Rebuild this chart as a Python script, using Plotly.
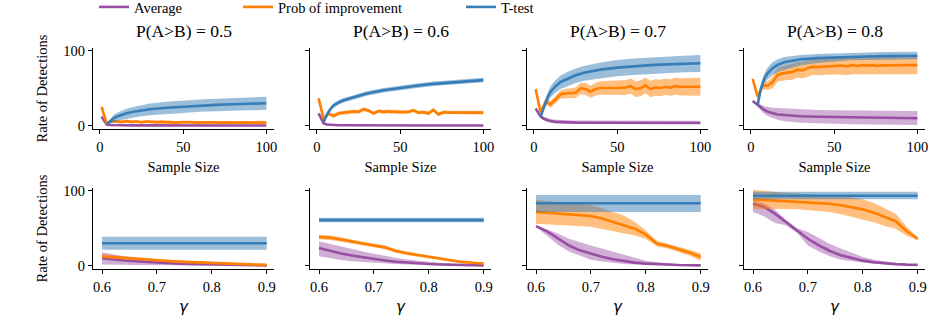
import plotly.graph_objects as go

# ---------------- data ----------------
panel_titles = ["P(A>B) = 0.5", "P(A>B) = 0.6", "P(A>B) = 0.7", "P(A>B) = 0.8"]
series_names = ["Average", "Prob of improvement", "T-test"]

sample_sizes = [1, 4, 7, 10, 13, 16, 19, 22, 25, 28, 31, 34, 37, 40, 43, 46, 49,
                52, 55, 58, 61, 64, 67, 70, 73, 76, 79, 82, 85, 88, 91, 94, 97, 100]
sample_sizes_smooth = [1, 4, 6, 8, 10, 13, 16, 20, 25, 30, 40, 50, 60, 70, 80, 90, 100]
sample_sizes_ttest = [4, 6, 8, 10, 13, 16, 20, 25, 30, 40, 50, 60, 70, 80, 90, 100]
gammas = [0.6, 0.62, 0.64, 0.66, 0.68, 0.7, 0.72, 0.74, 0.76, 0.78, 0.8, 0.82, 0.84, 0.86, 0.88, 0.9]

x_ticks_n = [0, 50, 100]
x_ticks_g = [0.6, 0.7, 0.8, 0.9]
y_ticks = [0, 100]

# --- top row: vs sample size ---
avg_n_mean_05 = [12, 1.5, 0.8, 0.6, 0.5, 0.4, 0.3, 0.3, 0.3, 0.2, 0.2, 0.2, 0.2, 0.2, 0.2, 0.2, 0.2]
avg_n_lo_05 = [10.5, 0.5, 0.1, 0, 0, 0, 0, 0, 0, 0, 0, 0, 0, 0, 0, 0, 0]
avg_n_hi_05 = [13.5, 3, 2, 1.6, 1.4, 1.2, 1.1, 1, 1, 0.9, 0.9, 0.9, 0.9, 0.9, 0.9, 0.9, 0.9]
tt_n_mean_05 = [2, 6, 9.5, 12, 14.5, 16.5, 18.5, 20.5, 22, 24, 25.5, 26.8, 27.8, 28.6, 29.3, 30]
tt_n_lo_05 = [1, 3, 4.5, 6, 8, 9.5, 11, 12.5, 14, 16, 17, 18.5, 19.5, 20, 20.7, 21.3]
tt_n_hi_05 = [3, 9, 14, 17, 20, 22.5, 25, 27.5, 29.5, 32, 34, 35, 36, 37, 38, 38.7]
prob_n_mean_05 = [25, 3, 6, 5.5, 5, 6, 5, 5.5, 4.5, 5.5, 5, 4.5, 5, 4.5, 5, 4, 4.5,
                  5, 4.5, 4, 4.5, 4, 4.5, 4, 4, 4.5, 4, 4, 4.5, 4, 4, 4.5, 4, 4]
prob_n_err_05 = [2, 1.5, 2, 2, 2, 2, 2, 2, 2, 2, 2, 2, 2, 2, 2, 2, 2,
                 2, 2, 2, 2, 2, 2, 2, 2, 2, 2, 2, 2, 2, 2, 2, 2, 2]

avg_n_mean_06 = [16.5, 3, 1.5, 1, 0.8, 0.6, 0.5, 0.4, 0.3, 0.3, 0.2, 0.2, 0.2, 0.2, 0.2, 0.2, 0.2]
avg_n_lo_06 = [15, 1.5, 0.5, 0.2, 0.1, 0, 0, 0, 0, 0, 0, 0, 0, 0, 0, 0, 0]
avg_n_hi_06 = [18, 4.5, 2.5, 2, 1.6, 1.3, 1.1, 1, 0.9, 0.9, 0.8, 0.8, 0.8, 0.8, 0.8, 0.8, 0.8]
tt_n_mean_06 = [5, 15, 22, 27, 31, 34, 36.6, 40, 43, 47.5, 51, 53.5, 56, 58, 59.5, 61]
tt_n_lo_06 = [3, 12, 19, 24, 28, 31, 33.5, 37, 40, 44.5, 48, 50.5, 53, 55, 56.5, 58]
tt_n_hi_06 = [7, 18, 25, 30, 34, 37, 39.5, 43, 46, 50.5, 54, 56.5, 59, 61, 62.5, 64]
prob_n_mean_06 = [36.6, 9, 16, 13, 16.5, 17.5, 17.5, 19, 18.5, 22, 20, 16.5, 19.5, 18.5, 19, 18.5, 18.5,
                  18, 18.5, 20.5, 17.5, 18, 16.5, 21, 15, 18, 17.5, 17.5, 17, 17.5, 17.5, 17, 17.5, 17.5]
prob_n_err_06 = [2, 2, 2.5, 2.5, 2.5, 2.5, 2.5, 2.5, 2.5, 2.5, 2.5, 2.5, 2.5, 2.5, 2.5, 2.5, 2.5,
                 2.5, 2.5, 2.5, 2.5, 2.5, 2.5, 2.5, 2.5, 2.5, 2.5, 2.5, 2.5, 2.5, 2.5, 2.5, 2.5, 2.5]

avg_n_mean_07 = [23, 12, 9, 7, 6, 5, 4.5, 4.3, 4, 3.9, 3.8, 3.7, 3.7, 3.6, 3.6, 3.6, 3.6]
avg_n_lo_07 = [22, 10, 7, 5, 4.5, 3.5, 3, 2.8, 2.5, 2.4, 2.3, 2.2, 2.2, 2.1, 2.1, 2.1, 2.1]
avg_n_hi_07 = [24, 15, 12, 10, 9, 8, 7.5, 7.3, 7, 6.9, 6.8, 6.7, 6.7, 6.6, 6.6, 6.6, 6.6]
tt_n_mean_07 = [12, 26, 37, 45.5, 53, 58.5, 63, 67.5, 71, 75, 77.7, 79.5, 81, 82, 83, 83.5]
tt_n_lo_07 = [10, 22, 31, 38, 44, 49, 53, 57, 60, 63.5, 66, 68, 69.5, 70.5, 71.5, 72]
tt_n_hi_07 = [14, 30, 43, 53, 61, 67, 72, 76.5, 80, 84.5, 88, 90, 91.5, 92.5, 93.5, 94.5]
prob_n_mean_07 = [48.7, 18, 32, 28.6, 35, 42, 43, 43, 44, 50, 49, 45.5, 49, 50.5, 51, 50.5, 50.5,
                  51, 51, 53, 49, 50, 54, 49, 51, 50.5, 52, 51, 53, 52, 52, 52, 52, 52]
prob_n_err_07 = [2, 3, 4, 4.5, 5, 5.5, 6, 6.5, 7, 7.5, 8, 8, 8.5, 9, 9, 9.5, 9.5,
                 10, 10, 10, 10.5, 10.5, 10.5, 11, 11, 11, 11, 11, 11.5, 11.5, 11.5, 11.5, 12, 12]

avg_n_mean_08 = [33, 27.7, 24, 21, 18.7, 16.5, 15, 14.3, 13.3, 12.6, 11.9, 11.4, 11, 10.6, 10.3, 10, 9.8]
avg_n_lo_08 = [32, 25, 20, 16, 13, 10, 8, 6, 5, 4, 3, 2.5, 2, 1.5, 1.2, 1, 1]
avg_n_hi_08 = [34, 30, 28, 26, 25, 24, 23.5, 23, 22, 21.5, 21, 20.5, 20, 20, 19.8, 19.7, 19.6]
tt_n_mean_08 = [27.7, 50, 63, 70, 77, 81.5, 85, 87.5, 89, 90.5, 91.5, 92.2, 92.7, 93.1, 93.4, 93.7]
tt_n_lo_08 = [26, 45, 56, 62, 68, 72, 74.5, 78, 81, 84, 86, 87.5, 88, 88.5, 89, 89]
tt_n_hi_08 = [29.5, 55, 70, 78, 85, 89, 92, 93.5, 94.5, 96, 97, 97.5, 98, 98.5, 98.7, 99]
prob_n_mean_08 = [62.5, 38.8, 53.6, 53.6, 58, 68, 70, 71, 72, 75, 74, 77, 79, 78.5, 79, 79.5, 80,
                  80, 80.5, 79.5, 81, 80, 81, 80.5, 81, 80, 81, 80.5, 81, 80.5, 81, 81, 81, 81]
prob_n_err_08 = [2, 3, 5, 6, 8, 9, 10, 10, 10.5, 10.5, 11, 11, 11, 11, 11.5, 11.5, 11.5,
                 11.5, 12, 12, 12, 12, 12, 12, 12, 12, 12, 12, 12, 12, 12, 12, 12, 12]

# --- bottom row: vs gamma ---
avg_g_mean_05 = [10, 8.2, 6.8, 5.8, 4.8, 4, 3.3, 2.7, 2.2, 1.8, 1.4, 1, 0.7, 0.5, 0.3, 0.2]
avg_g_lo_05 = [1.5, 1.5, 1.2, 1, 0.8, 0.6, 0.5, 0.4, 0.3, 0.2, 0.1, 0, 0, 0, 0, 0]
avg_g_hi_05 = [18, 15, 12.5, 10.5, 9, 7.5, 6.2, 5, 4.2, 3.5, 2.8, 2.2, 1.6, 1.2, 0.8, 0.5]
prob_g_mean_05 = [12.5, 11.3, 10.2, 9, 8, 7, 6.2, 5.4, 4.7, 4, 3.5, 2.8, 2.2, 1.7, 1.3, 1]
prob_g_err_05 = [2.5, 2.5, 2.2, 2, 2, 1.8, 1.6, 1.5, 1.4, 1.3, 1.2, 1, 1, 0.8, 0.7, 0.6]

avg_g_mean_06 = [23.7, 19.7, 16.3, 13.5, 11, 8.5, 6.8, 5.3, 4, 3, 2.2, 1.6, 1.1, 0.7, 0.5, 0.3]
avg_g_lo_06 = [12.5, 9.5, 7.5, 6, 5, 4, 3, 2.2, 1.6, 1.2, 0.8, 0.5, 0.3, 0.2, 0.1, 0]
avg_g_hi_06 = [32.6, 29, 25.5, 22, 19, 16, 13, 10.5, 8.3, 6.5, 5, 3.8, 2.8, 2, 1.3, 0.8]
prob_g_mean_06 = [38.4, 37.5, 35, 32, 29.5, 27, 24.5, 19.5, 16.5, 14, 11.6, 9.3, 7, 5, 3.8, 2.7]
prob_g_err_06 = [3, 3, 3, 2.8, 2.6, 2.5, 2.4, 2.3, 2.2, 2.1, 2, 2, 1.8, 1.6, 1.5, 1.3]

avg_g_mean_07 = [53, 46, 36.6, 27, 20.5, 16, 12, 8.5, 5.8, 4, 2.7, 1.8, 1.2, 0.8, 0.5, 0.4]
avg_g_lo_07 = [52, 40, 28, 19, 13, 8, 5.5, 3.5, 2.3, 1.5, 1, 0.6, 0.4, 0.3, 0.2, 0.1]
avg_g_hi_07 = [54, 49, 43, 36, 31, 27, 23, 19, 14.5, 10, 6.5, 4.5, 3, 2, 1.3, 0.8]
prob_g_mean_07 = [72, 71, 70, 69, 67.8, 66.5, 63, 58.5, 55, 49.5, 41.5, 29.5, 26.3, 21.9, 17.4, 11.6]
prob_g_err_07 = [16, 16, 15.5, 15, 15, 14.5, 14, 13, 12, 9, 5.5, 4, 3.5, 3.5, 4, 5]

avg_g_mean_08 = [83, 78.6, 69.6, 58.5, 47, 36, 27, 19.6, 14, 10, 6.7, 4.5, 3, 2, 1.3, 1]
avg_g_lo_08 = [72, 66, 57, 54, 44, 27, 19, 12.5, 8, 5.5, 4, 2.5, 1.5, 1, 0.6, 0.4]
avg_g_hi_08 = [87.5, 84, 75, 61, 50, 45, 37, 29, 23, 17, 11.6, 8, 5.5, 3.5, 2.2, 1.5]
prob_g_mean_08 = [88.8, 88, 87.5, 86.8, 86, 85, 84, 83, 81, 78.6, 75.4, 71, 65, 59.5, 46, 36]
prob_g_err_08 = [13, 12, 11.5, 11, 10.5, 10, 10.5, 11, 12, 13, 13.5, 13, 12, 10, 6, 2]

# grouped per panel for iteration
avg_n = [(avg_n_mean_05, avg_n_lo_05, avg_n_hi_05), (avg_n_mean_06, avg_n_lo_06, avg_n_hi_06),
         (avg_n_mean_07, avg_n_lo_07, avg_n_hi_07), (avg_n_mean_08, avg_n_lo_08, avg_n_hi_08)]
tt_n = [(tt_n_mean_05, tt_n_lo_05, tt_n_hi_05), (tt_n_mean_06, tt_n_lo_06, tt_n_hi_06),
        (tt_n_mean_07, tt_n_lo_07, tt_n_hi_07), (tt_n_mean_08, tt_n_lo_08, tt_n_hi_08)]
prob_n = [(prob_n_mean_05, prob_n_err_05), (prob_n_mean_06, prob_n_err_06),
          (prob_n_mean_07, prob_n_err_07), (prob_n_mean_08, prob_n_err_08)]
avg_g = [(avg_g_mean_05, avg_g_lo_05, avg_g_hi_05), (avg_g_mean_06, avg_g_lo_06, avg_g_hi_06),
         (avg_g_mean_07, avg_g_lo_07, avg_g_hi_07), (avg_g_mean_08, avg_g_lo_08, avg_g_hi_08)]
prob_g = [(prob_g_mean_05, prob_g_err_05), (prob_g_mean_06, prob_g_err_06),
          (prob_g_mean_07, prob_g_err_07), (prob_g_mean_08, prob_g_err_08)]

# ---------------- style ----------------
C_AVG, C_PROB, C_TT = "#984ea3", "#ff7f00", "#377eb8"
F_AVG, F_PROB, F_TT = "rgba(152,78,163,0.45)", "rgba(255,127,0,0.5)", "rgba(55,126,184,0.5)"
SERIF = "Liberation Serif"
W, H = 934, 317
LW = 2.6
panel_left = [93, 310, 527, 744]
panel_w = 181
rows_px = [(48, 129), (188, 269)]

fig = go.Figure()


def ax_names(idx):
    return ("x" if idx == 1 else f"x{idx}"), ("y" if idx == 1 else f"y{idx}")


def add_band(xa, ya, x, lo, hi, color):
    fig.add_trace(go.Scatter(x=list(x) + list(x)[::-1], y=list(hi) + list(lo)[::-1],
                             fill="toself", fillcolor=color, line=dict(width=0),
                             mode="lines", hoverinfo="skip", showlegend=False,
                             xaxis=xa, yaxis=ya))


def add_line(xa, ya, x, y, color, name=None, legend=None):
    fig.add_trace(go.Scatter(x=x, y=y, mode="lines", line=dict(color=color, width=LW),
                             name=name, showlegend=name is not None,
                             legend=legend, xaxis=xa, yaxis=ya))


legends = ["legend", "legend2", "legend3"]

for c in range(4):
    # top row
    xa, ya = ax_names(c + 1)
    am, al, ah = avg_n[c]
    pm, pe = prob_n[c]
    tm, tl, th = tt_n[c]
    add_band(xa, ya, sample_sizes_smooth, al, ah, F_AVG)
    add_line(xa, ya, sample_sizes_smooth, am, C_AVG,
             series_names[0] if c == 0 else None, legends[0])
    add_band(xa, ya, sample_sizes, [m - e for m, e in zip(pm, pe)],
             [m + e for m, e in zip(pm, pe)], F_PROB)
    add_line(xa, ya, sample_sizes, pm, C_PROB,
             series_names[1] if c == 0 else None, legends[1])
    add_band(xa, ya, sample_sizes_ttest, tl, th, F_TT)
    add_line(xa, ya, sample_sizes_ttest, tm, C_TT,
             series_names[2] if c == 0 else None, legends[2])

    # bottom row
    xa, ya = ax_names(c + 5)
    am, al, ah = avg_g[c]
    pm, pe = prob_g[c]
    add_band(xa, ya, gammas, al, ah, F_AVG)
    add_line(xa, ya, gammas, am, C_AVG)
    add_band(xa, ya, gammas, [m - e for m, e in zip(pm, pe)],
             [m + e for m, e in zip(pm, pe)], F_PROB)
    add_line(xa, ya, gammas, pm, C_PROB)
    # T-test does not depend on gamma: its value at the largest sample size
    add_band(xa, ya, [gammas[0], gammas[-1]], [tl[-1]] * 2, [th[-1]] * 2, F_TT)
    add_line(xa, ya, [gammas[0], gammas[-1]], [tm[-1]] * 2, C_TT)

axis_common = dict(showline=True, linecolor="black", linewidth=1.2, ticks="outside",
                   ticklen=4, tickwidth=1.2, tickcolor="black", showgrid=False,
                   zeroline=False, automargin=False,
                   tickfont=dict(family=SERIF, size=14.5, color="black"))

layout = {}
for r in range(2):
    top_px, bot_px = rows_px[r]
    for c in range(4):
        idx = r * 4 + c + 1
        sfx = "" if idx == 1 else str(idx)
        l = panel_left[c]
        xd = [l / W, (l + panel_w) / W]
        yd = [1 - bot_px / H, 1 - top_px / H]
        if r == 0:
            xr = [-4.2, 104.6]
            xt = dict(tickvals=x_ticks_n, ticktext=[str(v) for v in x_ticks_n])
            xtitle = dict(text="Sample Size", font=dict(family=SERIF, size=14.5, color="black"),
                          standoff=8)
        else:
            xr = [0.5836, 0.9133]
            xt = dict(tickvals=x_ticks_g, ticktext=[f"{v:.1f}" for v in x_ticks_g])
            xtitle = dict(text="<i>γ</i>", font=dict(family="DejaVu Sans", size=15, color="black"),
                          standoff=7)
        layout["xaxis" + sfx] = dict(axis_common, domain=xd, range=xr, anchor="y" + sfx,
                                     title=xtitle, **xt)
        ytitle = dict(text="Rate of Detections", font=dict(family=SERIF, size=14.5, color="black"),
                      standoff=12) if c == 0 else None
        ydict = dict(axis_common, domain=yd, range=[-4.5, 104], anchor="x" + sfx,
                     tickvals=y_ticks, ticktext=[str(v) for v in y_ticks],
                     showticklabels=(c == 0))
        if ytitle:
            ydict["title"] = ytitle
        layout["yaxis" + sfx] = ydict

annotations = []
for c in range(4):
    annotations.append(dict(text=panel_titles[c], xref="paper", yref="paper",
                            x=(panel_left[c] + panel_w / 2) / W, y=1 - 31 / H,
                            xanchor="center", yanchor="middle", showarrow=False,
                            font=dict(family=SERIF, size=17.5, color="black")))

leg_common = dict(orientation="h", xanchor="left", yanchor="middle", y=1 - 7 / H,
                  xref="container", yref="container",
                  bgcolor="rgba(0,0,0,0)", borderwidth=0,
                  font=dict(family=SERIF, size=14.5, color="black"))
legend_x_px = [94, 238, 461]

fig.update_layout(
    width=W, height=H, margin=dict(l=0, r=0, t=0, b=0, autoexpand=False),
    paper_bgcolor="white", plot_bgcolor="white",
    font=dict(family=SERIF, color="black"),
    annotations=annotations,
    legend=dict(leg_common, x=legend_x_px[0] / W),
    legend2=dict(leg_common, x=legend_x_px[1] / W),
    legend3=dict(leg_common, x=legend_x_px[2] / W),
    **layout,
)

fig.write_html("out.html", config={"displayModeBar": False},
               post_script="document.body.style.margin='0';document.body.style.overflow='hidden';")
